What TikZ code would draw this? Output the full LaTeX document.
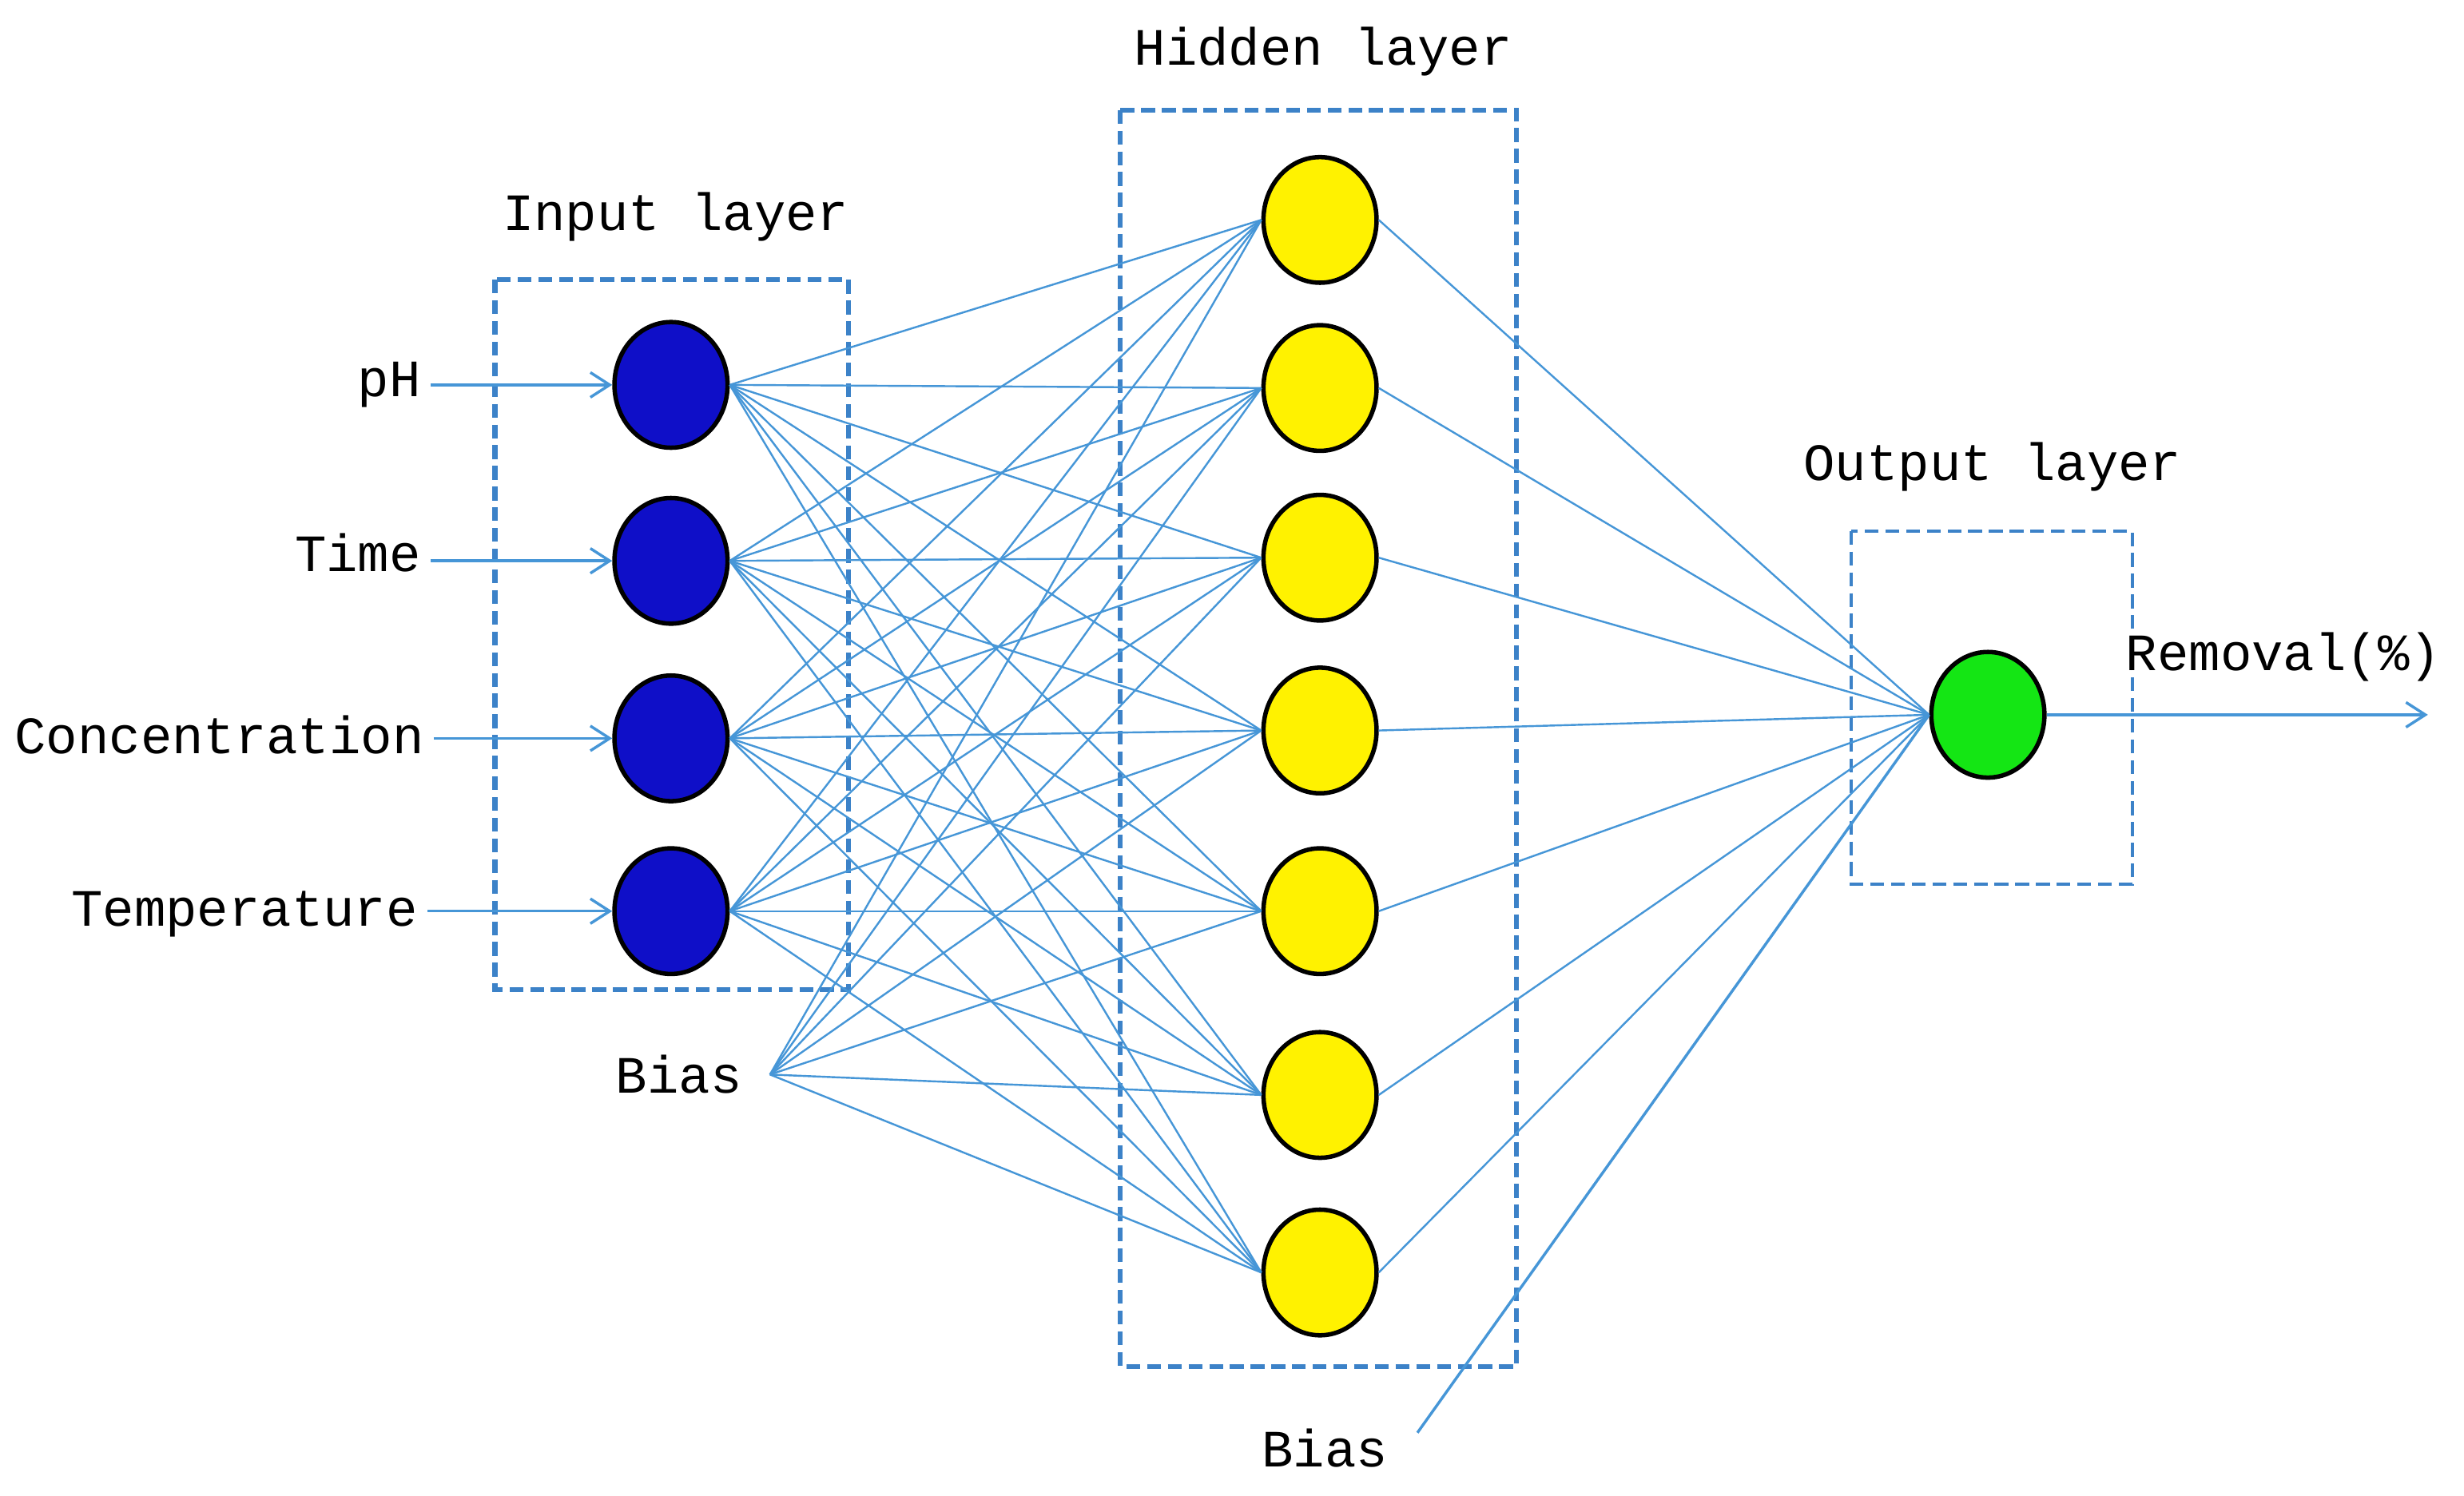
\documentclass[tikz,border=0pt]{standalone}
\usepackage{fontspec}
\setmainfont{Liberation Mono}
\usetikzlibrary{shapes.geometric,arrows.meta}
\definecolor{ln}{RGB}{70,150,215}
\definecolor{bx}{RGB}{60,130,200}
\begin{document}
\begin{tikzpicture}[x=0.02cm,y=-0.02cm,
  neu/.style={ellipse,draw=black,line width=1.6pt,minimum width=1.44cm,minimum height=1.6cm,inner sep=0},
  con/.style={ln,line width=0.7pt},
  arr/.style={ln,line width=1pt,-{Straight Barb[length=7pt,width=9pt]}},
  lay/.style={draw=bx,line width=1.8pt,dash pattern=on 5pt off 2.5pt},
  lbl/.style={font=\fontsize{19}{22}\selectfont}]
\useasboundingbox (0,0) rectangle (1568,952);
\draw[lay] (315,178) rectangle (540,630);
\draw[lay] (713,70) rectangle (965,870);
\draw[lay,line width=1.2pt] (1178,338) rectangle (1357,563);
\foreach \y [count=\i] in {245,357,470,580} \node[neu,fill={rgb,255:red,15;green,15;blue,200}] (i\i) at (427,\y) {};
\foreach \y [count=\i] in {140,247,355,465,580,697,810} \node[neu,fill=yellow] (h\i) at (840,\y) {};
\node[neu,fill={rgb,255:red,20;green,230;blue,20}] (o) at (1265,455) {};
\node[lbl] (tin) at (430,138) {Input layer};
\node[lbl] (thid) at (842,33) {Hidden layer};
\node[lbl] (tout) at (1268,297) {Output layer};
\node[lbl,anchor=east] (pH) at (274,245) {pH};
\node[lbl,anchor=east] (tm) at (274,352) {Time};
\node[lbl,anchor=east] (cc) at (276,468) {Concentration};
\node[lbl,anchor=east] (tp) at (272,582) {Temperature};
\node[lbl] (b1) at (432,684) {Bias};
\node[lbl] (b2) at (843,922) {Bias};
\node[lbl] (rem) at (1453,418) {Removal(\%)};
\coordinate (b1p) at (490,684);
\coordinate (b2p) at (902,912);
\coordinate (oe) at (1545,455);
\draw[arr] (pH.east |- i1) -- (i1.west);
\draw[arr] (tm.east |- i2) -- (i2.west);
\draw[arr] (cc.east |- i3) -- (i3.west);
\draw[arr] (tp.east |- i4) -- (i4.west);
\foreach \i in {1,...,4} \foreach \j in {1,...,7} \draw[con] (i\i.east) -- (h\j.west);
\foreach \j in {1,...,7} \draw[con] (b1p) -- (h\j.west);
\foreach \j in {1,...,7} \draw[con] (h\j.east) -- (o.west);
\draw[con,line width=1pt] (b2p) -- (o.west);
\draw[arr] (o.east) -- (oe);
\end{tikzpicture}
\end{document}
